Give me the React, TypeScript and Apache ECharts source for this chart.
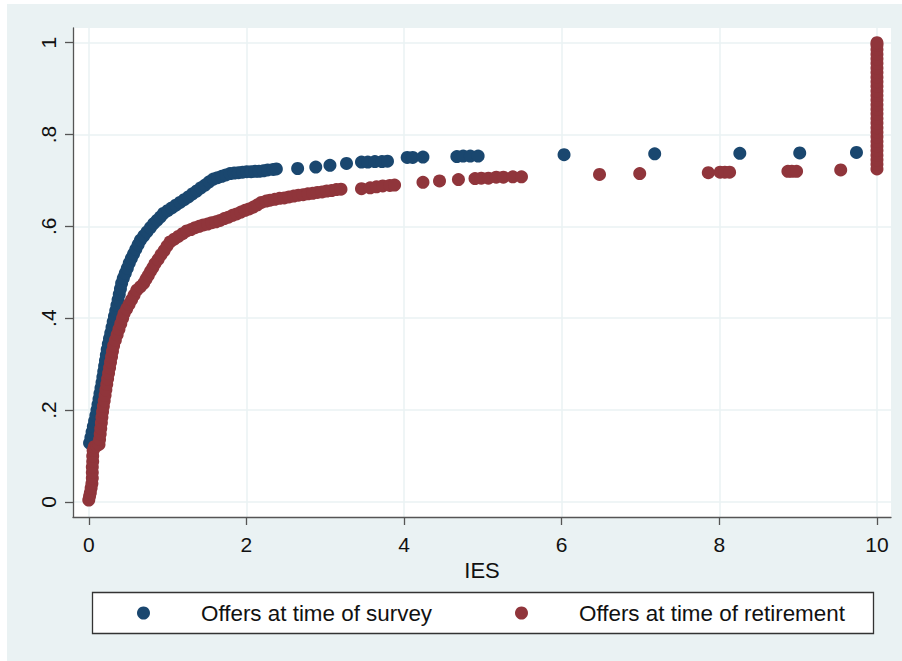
import React, { useEffect, useRef } from "react";
import * as echarts from "echarts";

// ---- data ----
const seriesNames = ["Offers at time of survey", "Offers at time of retirement"];

const xTickValues = [0, 2, 4, 6, 8, 10];
const xTickLabels = ["0", "2", "4", "6", "8", "10"];
const yTickValues = [0, 0.2, 0.4, 0.6, 0.8, 1];
const yTickLabels = ["0", ".2", ".4", ".6", ".8", "1"];

const surveyX = [
  0.010, 0.027, 0.042, 0.058, 0.074, 0.090, 0.104, 0.117, 0.130, 0.142, 0.155, 0.168,
  0.179, 0.190, 0.201, 0.212, 0.223, 0.234, 0.248, 0.263, 0.279, 0.295, 0.310, 0.326,
  0.342, 0.357, 0.372, 0.387, 0.402, 0.417, 0.438, 0.463, 0.489, 0.514, 0.540, 0.568,
  0.597, 0.626, 0.655, 0.697, 0.739, 0.781, 0.824, 0.865, 0.906, 0.947, 1.000, 1.053,
  1.105, 1.158, 1.211, 1.264, 1.317, 1.370, 1.423, 1.476, 1.528, 1.581, 1.634, 1.687,
  1.740, 1.792, 1.845, 1.898, 1.951, 2.004, 2.060, 2.110, 2.160, 2.215, 2.270, 2.340,
  2.380, 2.650, 2.880, 3.060, 3.270, 3.460, 3.540, 3.630, 3.720, 3.790, 4.040, 4.110,
  4.240, 4.670, 4.750, 4.840, 4.940, 6.030, 7.180, 8.260, 9.020, 9.740,
];
const surveyY = [
  0.128, 0.140, 0.152, 0.164, 0.176, 0.188, 0.200, 0.212, 0.224, 0.236, 0.248, 0.260,
  0.272, 0.284, 0.296, 0.308, 0.320, 0.332, 0.344, 0.356, 0.368, 0.380, 0.392, 0.404,
  0.416, 0.428, 0.440, 0.452, 0.464, 0.476, 0.487, 0.498, 0.509, 0.520, 0.530, 0.540,
  0.550, 0.560, 0.570, 0.579, 0.588, 0.597, 0.606, 0.613, 0.620, 0.628, 0.634, 0.640,
  0.646, 0.652, 0.658, 0.664, 0.671, 0.677, 0.684, 0.690, 0.697, 0.703, 0.706, 0.709,
  0.712, 0.715, 0.716, 0.717, 0.718, 0.719, 0.719, 0.720, 0.720, 0.721, 0.723, 0.724,
  0.725, 0.726, 0.729, 0.733, 0.737, 0.740, 0.740, 0.741, 0.741, 0.742, 0.750, 0.750,
  0.751, 0.752, 0.753, 0.753, 0.753, 0.756, 0.758, 0.759, 0.760, 0.761,
];

const retireX = [
  0.000, 0.010, 0.020, 0.030, 0.040, 0.045, 0.045, 0.045, 0.050, 0.050, 0.055, 0.070,
  0.100, 0.130, 0.137, 0.145, 0.152, 0.160, 0.167, 0.175, 0.185, 0.196, 0.207, 0.217,
  0.228, 0.239, 0.251, 0.264, 0.276, 0.289, 0.301, 0.315, 0.337, 0.360, 0.383, 0.406,
  0.429, 0.448, 0.480, 0.511, 0.543, 0.574, 0.609, 0.653, 0.697, 0.726, 0.755, 0.784,
  0.812, 0.841, 0.879, 0.917, 0.955, 0.993, 1.031, 1.084, 1.137, 1.190, 1.243, 1.296,
  1.349, 1.401, 1.454, 1.507, 1.560, 1.613, 1.666, 1.719, 1.772, 1.824, 1.877, 1.930,
  1.983, 2.035, 2.088, 2.140, 2.190, 2.250, 2.300, 2.360, 2.420, 2.480, 2.540, 2.600,
  2.660, 2.720, 2.780, 2.840, 2.900, 2.960, 3.020, 3.080, 3.140, 3.200, 3.460, 3.570,
  3.650, 3.730, 3.820, 3.880, 4.240, 4.450, 4.690, 4.900, 4.980, 5.070, 5.170, 5.260,
  5.380, 5.490, 6.480, 6.990, 7.860, 8.010, 8.070, 8.130, 8.870, 8.920, 8.980, 9.540,
  10, 10, 10, 10, 10, 10, 10, 10, 10, 10, 10, 10, 10, 10, 10, 10, 10, 10, 10, 10,
  10, 10, 10, 10, 10, 10, 10, 10, 10,
];
const retireY = [
  0.004, 0.012, 0.020, 0.030, 0.040, 0.052, 0.064, 0.076, 0.088, 0.100, 0.112, 0.120,
  0.122, 0.125, 0.136, 0.148, 0.160, 0.172, 0.184, 0.196, 0.208, 0.220, 0.232, 0.244,
  0.256, 0.268, 0.280, 0.292, 0.304, 0.316, 0.328, 0.340, 0.352, 0.364, 0.376, 0.388,
  0.400, 0.410, 0.420, 0.430, 0.440, 0.450, 0.461, 0.468, 0.476, 0.485, 0.493, 0.502,
  0.510, 0.519, 0.528, 0.538, 0.547, 0.557, 0.566, 0.572, 0.578, 0.584, 0.590, 0.593,
  0.597, 0.600, 0.603, 0.605, 0.608, 0.610, 0.613, 0.617, 0.620, 0.624, 0.627, 0.631,
  0.635, 0.638, 0.642, 0.647, 0.652, 0.655, 0.657, 0.659, 0.661, 0.662, 0.664, 0.666,
  0.668, 0.669, 0.671, 0.672, 0.674, 0.675, 0.677, 0.678, 0.680, 0.681, 0.682, 0.684,
  0.686, 0.688, 0.689, 0.690, 0.696, 0.699, 0.702, 0.704, 0.705, 0.705, 0.707, 0.707,
  0.708, 0.708, 0.713, 0.715, 0.717, 0.718, 0.718, 0.718, 0.720, 0.720, 0.720, 0.723,
  0.725, 0.735, 0.745, 0.755, 0.765, 0.775, 0.785, 0.795, 0.805, 0.815, 0.825, 0.835,
  0.845, 0.855, 0.865, 0.875, 0.885, 0.895, 0.905, 0.915, 0.925, 0.935, 0.945, 0.955,
  0.965, 0.975, 0.985, 0.995, 1.000,
];

const BLUE = "#1a476f";
const RED = "#90353b";
const BG = "#eaf2f3";
const AXIS = "#555555";
const FONT = "'Liberation Sans', Arial, sans-serif";

export default function App() {
  const ref = useRef<HTMLDivElement>(null);

  useEffect(() => {
    if (!ref.current) return;
    const chart = echarts.init(ref.current, null, { renderer: "svg" });

    const surveyData = surveyX.map((x, i) => [x, surveyY[i]]);
    const retireData = retireX.map((x, i) => [x, retireY[i]]);

    chart.setOption({
      animation: false,
      backgroundColor: "#ffffff",
      textStyle: { fontFamily: FONT },
      graphic: [
        {
          type: "rect",
          z: -100,
          silent: true,
          shape: { x: 7, y: 4, width: 895, height: 657 },
          style: { fill: BG },
        },
        {
          type: "rect",
          z: 1,
          silent: true,
          shape: { x: 92.5, y: 592.5, width: 781, height: 41 },
          style: { fill: "#ffffff", stroke: "#333333", lineWidth: 1.3 },
        },
      ],
      grid: {
        left: 73,
        top: 28,
        width: 818,
        height: 489,
        show: true,
        backgroundColor: "#ffffff",
        borderWidth: 0,
      },
      legend: [
        {
          data: [seriesNames[0]],
          left: 137,
          top: 602,
          padding: 0,
          icon: "circle",
          itemWidth: 13,
          itemHeight: 13,
          textStyle: { fontSize: 22.4, color: "#111", fontFamily: FONT, padding: [0, 0, 0, 46] },
        },
        {
          data: [seriesNames[1]],
          left: 515,
          top: 602,
          padding: 0,
          icon: "circle",
          itemWidth: 13,
          itemHeight: 13,
          textStyle: { fontSize: 22.4, color: "#111", fontFamily: FONT, padding: [0, 0, 0, 46] },
        },
      ],
      xAxis: {
        type: "value",
        min: -0.2,
        max: 10.178,
        name: "IES",
        nameLocation: "middle",
        nameGap: 38,
        nameTextStyle: { fontSize: 22, color: "#111", fontFamily: FONT },
        axisLine: { show: true, onZero: false, lineStyle: { color: AXIS, width: 1.3 } },
        axisTick: {
          show: true,
          length: 8,
          customValues: xTickValues,
          lineStyle: { color: AXIS, width: 1.3 },
        },
        axisLabel: {
          show: true,
          customValues: xTickValues,
          margin: 17,
          fontSize: 21,
          color: "#111",
          fontFamily: FONT,
          formatter: (v: number) => xTickLabels[xTickValues.indexOf(Math.round(v))] ?? "",
        },
        splitLine: { show: true, lineStyle: { color: BG, width: 1.5 } },
      },
      yAxis: {
        type: "value",
        min: -0.033,
        max: 1.032,
        axisLine: { show: true, onZero: false, lineStyle: { color: AXIS, width: 1.3 } },
        axisTick: {
          show: true,
          length: 8,
          customValues: yTickValues,
          lineStyle: { color: AXIS, width: 1.3 },
        },
        axisLabel: {
          show: true,
          customValues: yTickValues,
          rotate: 90,
          margin: 14,
          fontSize: 21,
          color: "#111",
          fontFamily: FONT,
          formatter: (v: number) => yTickLabels[Math.round(v * 5)] ?? "",
        },
        splitLine: { show: true, lineStyle: { color: BG, width: 1.5 } },
      },
      series: [
        {
          name: seriesNames[0],
          type: "scatter",
          data: surveyData,
          symbol: "circle",
          symbolSize: 13,
          itemStyle: { color: BLUE, opacity: 1 },
          z: 2,
        },
        {
          name: seriesNames[1],
          type: "scatter",
          data: retireData,
          symbol: "circle",
          symbolSize: 13,
          itemStyle: { color: RED, opacity: 1 },
          z: 3,
        },
      ],
    });

    return () => chart.dispose();
  }, []);

  return (
    <div
      ref={ref}
      style={{ position: "absolute", left: 0, top: 0, width: 902, height: 661 }}
    />
  );
}
